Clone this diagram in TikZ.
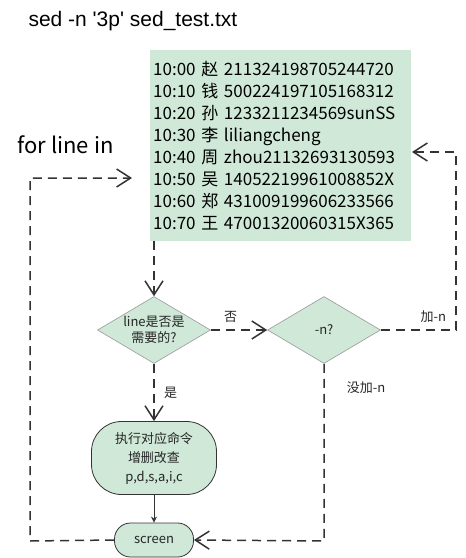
\documentclass[tikz,border=0pt]{standalone}
\usepackage{fontspec}
\setmainfont{Noto Sans CJK SC}
\newfontfamily\arialfont{Liberation Sans}
\usetikzlibrary{shapes.geometric,arrows.meta,calc}
\definecolor{boxgreen}{HTML}{CFE8D8}
\definecolor{linegray}{HTML}{333333}
\begin{document}
\begin{tikzpicture}[x=1pt,y=1pt,
	flow/.style={draw=linegray,line width=1.5pt,dash pattern=on 9pt off 6pt,
		-{Straight Barb[length=14pt,width=18pt,line width=1.5pt]}},
	dia/.style={diamond,draw=gray!80,line width=0.6pt,fill=boxgreen,inner sep=0pt,
		minimum width=113pt,minimum height=67pt},
	lbl/.style={font=\fontsize{13}{16}\selectfont,text=black!85}]
	\useasboundingbox (0,0) rectangle (466,-558);
	% title and loop text
	\node[anchor=west,font=\arialfont\fontsize{21}{24}\selectfont] (title) at (25,-21) {sed -n '3p' sed\_test.txt};
	\node[anchor=west,font=\fontsize{22}{24}\selectfont] (forin) at (14,-145) {for line in};
	% the file lines
	\node[anchor=north west,fill=boxgreen,minimum width=261pt,minimum height=191pt,
		text width=255pt,inner xsep=3pt,align=left,
		font=\fontsize{17}{22}\selectfont] (box) at (150,-50)
		{10:00 赵 211324198705244720\\
		10:10 钱 500224197105168312\\
		10:20 孙 1233211234569sunSS\\
		10:30 李 liliangcheng\\
		10:40 周 zhou21132693130593\\
		10:50 吴 14052219961008852X\\
		10:60 郑 431009199606233566\\
		10:70 王 47001320060315X365};
	% decisions
	\node[dia,label={[lbl,align=center]center:line是否是\\需要的?}] (need) at (154,-330) {};
	\node[dia,label={[lbl]center:-n?}] (optn) at (324,-330) {};
	% actions
	\node[draw=linegray,line width=0.8pt,fill=boxgreen,rounded corners=30pt,
		minimum width=125pt,minimum height=73pt,align=center,lbl,
		font=\fontsize{13}{19}\selectfont] (cmd) at (154,-458) {执行对应命令\\增删改查\\p,d,s,a,i,c};
	\node[draw=linegray,line width=0.8pt,fill=boxgreen,rounded corners=16pt,
		minimum width=79pt,minimum height=34pt,lbl] (screen) at (154,-540) {screen};
	% corner points
	\coordinate (loopin) at (132,-178);
	\coordinate (backin) at (412,-152);
	% connectors
	\draw[flow] (need.north |- box.south) -- (need.north);
	\draw[flow] (need.east) -- node[lbl,pos=0.35,above=3pt] {否} (optn.west);
	\draw[flow] (need.south) -- node[lbl,right=6pt] {是} (cmd.north);
	\draw[draw=linegray,line width=0.8pt,-{Stealth[length=6pt,width=6pt]}] (cmd.south) -- (screen.north);
	\draw[flow] (optn.east) -- node[lbl,above=3pt,pos=0.7] {加-n} (456,-330) -- (456,-152) -- (backin);
	\draw[flow] (optn.south) -- (324,-541) -- (screen.east);
	\node[lbl] (nolbl) at (366,-388) {没加-n};
	\draw[flow] (screen.west) -- (30,-541) -- (30,-178) -- (loopin);
\end{tikzpicture}
\end{document}
